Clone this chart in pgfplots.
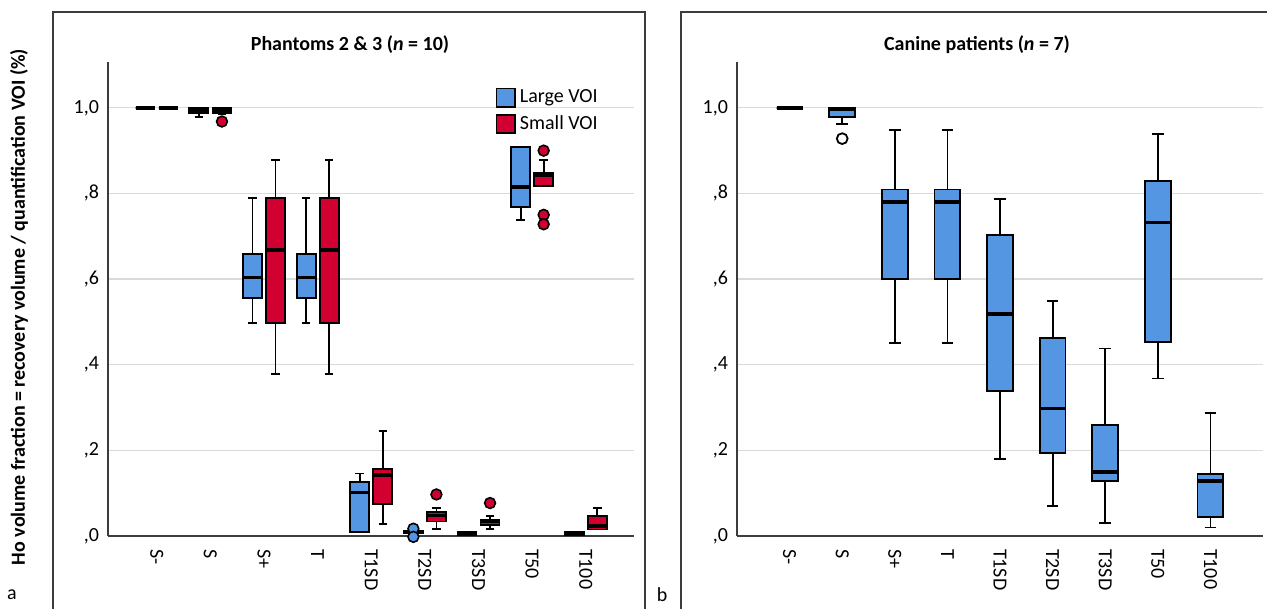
\documentclass[border=0pt]{standalone}
\usepackage{fontspec}
\setmainfont{Carlito}
\usepackage{pgfplots}
\pgfplotsset{compat=1.18}
\usepgfplotslibrary{statistics}
\definecolor{cblue}{RGB}{84,150,226}
\definecolor{cred}{RGB}{210,0,48}
\definecolor{cgrid}{RGB}{218,218,218}
\definecolor{caxis}{RGB}{60,60,60}
\pgfplotsset{
  panel/.style={
    scale only axis, width=263pt, height=237pt,
    ymin=0, ymax=1.107,
    axis x line*=bottom, axis y line*=left,
    axis line style={-, caxis, line width=0.7pt},
    ytick={0,0.2,0.4,0.6,0.8,1.0},
    yticklabels={{,0},{,2},{,4},{,6},{,8},{1,0}},
    ymajorgrids, grid style={cgrid, line width=0.6pt},
    xtick={0,...,8},
    xticklabels={S-,S,S+,T,T1SD,T2SD,T3SD,T50,T100},
    xticklabel style={rotate=-90, anchor=west, font=\fontsize{10}{12}\selectfont, xshift=3pt},
    yticklabel style={font=\fontsize{10}{12}\selectfont, xshift=-1pt},
    major tick length=0pt,
    clip=false,
    boxplot/draw direction=y,
    boxplot/every median/.style={draw=black, line width=1.8pt},
    boxplot/every whisker/.style={draw=black, line width=0.9pt},
  },
  bl/.style={draw=black, fill=cblue, line width=0.9pt, mark=*, mark size=2.7pt, mark options={fill=cblue, draw=black, solid, line width=0.8pt}, forget plot},
  rd/.style={draw=black, fill=cred, line width=0.9pt, mark=*, mark size=2.7pt, mark options={fill=cred, draw=black, solid, line width=0.8pt}, forget plot},
}
\begin{document}
\begin{tikzpicture}
\begin{scope}[x=0.5pt,y=0.5pt]
\draw[caxis, line width=0.8pt] (53,-10) -- (53,597) -- (645,597) -- (645,-10);
\draw[caxis, line width=0.8pt] (681,-10) -- (681,597) -- (1290,597);
\node[font=\bfseries\fontsize{10}{12}\selectfont] at (350,564) {Phantoms 2 \& 3 (\textit{n} = 10)};
\node[font=\bfseries\fontsize{10}{12}\selectfont] at (977,564) {Canine patients (\textit{n} = 7)};
\node[rotate=90, font=\bfseries\fontsize{10}{12}\selectfont] at (19,302) {Ho volume fraction = recovery volume / quantification VOI (\%)};
\node[font=\fontsize{10}{12}\selectfont] at (12,14) {a};
\node[font=\fontsize{10}{12}\selectfont] at (662,14) {b};
\end{scope}

% ---------------- Left panel ----------------
\begin{axis}[panel, at={(54pt,36.5pt)}, anchor=south west,
  xmin=-0.91, xmax=8.9,
  boxplot/box extend=0.355, boxplot/whisker extend=0.16,
  legend style={at={(0.736,0.951)}, anchor=north west, draw=none, fill=none,
    font=\fontsize{10}{12}\selectfont, inner sep=0pt, row sep=1pt, cells={anchor=west}},
]
\addlegendimage{legend image code/.code={\draw[fill=cblue,draw=black,line width=0.9pt] (0pt,-4.6pt) rectangle (9.3pt,4.6pt);}}
\addlegendentry{Large VOI}
\addlegendimage{legend image code/.code={\draw[fill=cred,draw=black,line width=0.9pt] (0pt,-4.6pt) rectangle (9.3pt,4.6pt);}}
\addlegendentry{Small VOI}
% S-
\addplot[bl, boxplot prepared={draw position=-0.215, lower whisker=1, lower quartile=1, median=1, upper quartile=1, upper whisker=1}] coordinates {};
\addplot[rd, boxplot prepared={draw position=0.215, lower whisker=1, lower quartile=1, median=1, upper quartile=1, upper whisker=1}] coordinates {};
% S
\addplot[bl, boxplot prepared={draw position=0.785, lower whisker=0.978, lower quartile=0.988, median=0.993, upper quartile=1.0, upper whisker=1.0}] coordinates {};
\addplot[rd, boxplot prepared={draw position=1.215, lower whisker=0.986, lower quartile=0.988, median=0.995, upper quartile=1.0, upper whisker=1.0}] table[row sep=\\, y index=0] {0.968\\};
% S+
\addplot[bl, boxplot prepared={draw position=1.785, lower whisker=0.498, lower quartile=0.556, median=0.604, upper quartile=0.658, upper whisker=0.789}] coordinates {};
\addplot[rd, boxplot prepared={draw position=2.215, lower whisker=0.378, lower quartile=0.498, median=0.668, upper quartile=0.789, upper whisker=0.878}] coordinates {};
% T
\addplot[bl, boxplot prepared={draw position=2.785, lower whisker=0.498, lower quartile=0.556, median=0.604, upper quartile=0.658, upper whisker=0.789}] coordinates {};
\addplot[rd, boxplot prepared={draw position=3.215, lower whisker=0.378, lower quartile=0.498, median=0.668, upper quartile=0.789, upper whisker=0.878}] coordinates {};
% T1SD
\addplot[bl, boxplot prepared={draw position=3.785, lower whisker=0.01, lower quartile=0.01, median=0.102, upper quartile=0.126, upper whisker=0.146}] coordinates {};
\addplot[rd, boxplot prepared={draw position=4.215, lower whisker=0.028, lower quartile=0.075, median=0.142, upper quartile=0.156, upper whisker=0.246}] coordinates {};
% T2SD
\addplot[bl, boxplot prepared={draw position=4.785, lower whisker=0.006, lower quartile=0.006, median=0.009, upper quartile=0.011, upper whisker=0.011}] table[row sep=\\, y index=0] {0.017\\-0.002\\};
\addplot[rd, boxplot prepared={draw position=5.215, lower whisker=0.016, lower quartile=0.034, median=0.048, upper quartile=0.056, upper whisker=0.066}] table[row sep=\\, y index=0] {0.097\\};
% T3SD
\addplot[bl, boxplot prepared={draw position=5.785, lower whisker=0.001, lower quartile=0.001, median=0.005, upper quartile=0.009, upper whisker=0.009}] coordinates {};
\addplot[rd, boxplot prepared={draw position=6.215, lower whisker=0.016, lower quartile=0.025, median=0.034, upper quartile=0.038, upper whisker=0.046}] table[row sep=\\, y index=0] {0.077\\};
% T50
\addplot[bl, boxplot prepared={draw position=6.785, lower whisker=0.738, lower quartile=0.769, median=0.815, upper quartile=0.908, upper whisker=0.908}] coordinates {};
\addplot[rd, boxplot prepared={draw position=7.215, lower whisker=0.818, lower quartile=0.818, median=0.842, upper quartile=0.848, upper whisker=0.878}] table[row sep=\\, y index=0] {0.9\\0.75\\0.728\\};
% T100
\addplot[bl, boxplot prepared={draw position=7.785, lower whisker=0.001, lower quartile=0.001, median=0.005, upper quartile=0.009, upper whisker=0.009}] coordinates {};
\addplot[rd, boxplot prepared={draw position=8.215, lower whisker=0.015, lower quartile=0.015, median=0.024, upper quartile=0.046, upper whisker=0.066}] coordinates {};
\end{axis}

% ---------------- Right panel ----------------
\begin{axis}[panel, at={(368.5pt,36.5pt)}, anchor=south west,
  xmin=-1, xmax=9,
  boxplot/box extend=0.49, boxplot/whisker extend=0.22,
]
\addplot[bl, boxplot prepared={draw position=0, lower whisker=1, lower quartile=1, median=1, upper quartile=1, upper whisker=1}] coordinates {};
\addplot[bl, mark options={fill=white, draw=black}, boxplot prepared={draw position=1, lower whisker=0.962, lower quartile=0.978, median=0.996, upper quartile=1.0, upper whisker=1.0}] table[row sep=\\, y index=0] {0.928\\};
\addplot[bl, boxplot prepared={draw position=2, lower whisker=0.45, lower quartile=0.601, median=0.78, upper quartile=0.809, upper whisker=0.948}] coordinates {};
\addplot[bl, boxplot prepared={draw position=3, lower whisker=0.45, lower quartile=0.601, median=0.78, upper quartile=0.809, upper whisker=0.948}] coordinates {};
\addplot[bl, boxplot prepared={draw position=4, lower whisker=0.179, lower quartile=0.339, median=0.518, upper quartile=0.703, upper whisker=0.787}] coordinates {};
\addplot[bl, boxplot prepared={draw position=5, lower whisker=0.07, lower quartile=0.193, median=0.298, upper quartile=0.462, upper whisker=0.549}] coordinates {};
\addplot[bl, boxplot prepared={draw position=6, lower whisker=0.03, lower quartile=0.129, median=0.149, upper quartile=0.259, upper whisker=0.438}] coordinates {};
\addplot[bl, boxplot prepared={draw position=7, lower whisker=0.368, lower quartile=0.453, median=0.732, upper quartile=0.83, upper whisker=0.939}] coordinates {};
\addplot[bl, boxplot prepared={draw position=8, lower whisker=0.02, lower quartile=0.044, median=0.129, upper quartile=0.145, upper whisker=0.288}] coordinates {};
\end{axis}
\pgfresetboundingbox
\path[use as bounding box] (0,0) rectangle (633.5pt,304.5pt);
\end{tikzpicture}
\end{document}
